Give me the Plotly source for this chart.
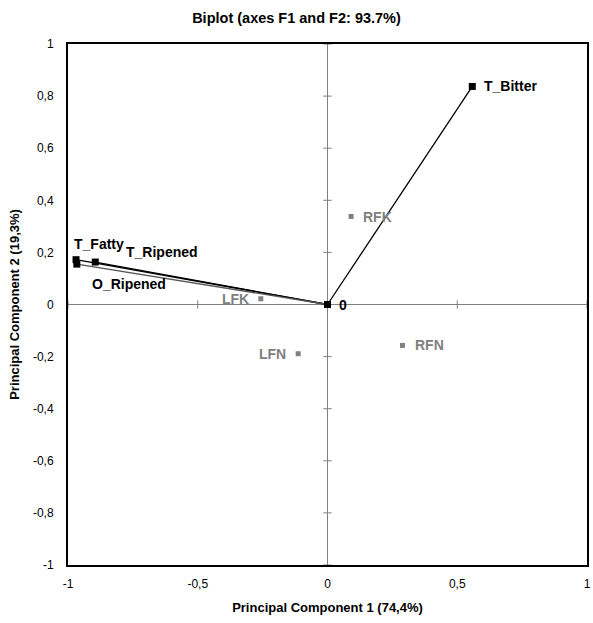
import plotly.graph_objects as go

# Variables (loadings)
var_names = ["T_Bitter", "T_Fatty", "T_Ripened", "O_Ripened"]
var_x = [0.558, -0.969, -0.895, -0.966]
var_y = [0.837, 0.172, 0.163, 0.155]
var_colors = ["#000000", "#000000", "#000000", "#555555"]

# Observations
obs_names = ["RFK", "RFN", "LFK", "LFN"]
obs_x = [0.091, 0.289, -0.257, -0.113]
obs_y = [0.338, -0.157, 0.022, -0.189]

origin_name = ["0"]
origin_x = [0.0]
origin_y = [0.0]

tick_vals_x = [-1, -0.5, 0, 0.5, 1]
tick_text_x = ["-1", "-0,5", "0", "0,5", "1"]
tick_vals_y = [-1, -0.8, -0.6, -0.4, -0.2, 0, 0.2, 0.4, 0.6, 0.8, 1]
tick_text_y = ["-1", "-0,8", "-0,6", "-0,4", "-0,2", "0", "0,2", "0,4", "0,6", "0,8", "1"]

# label placement (anchor, x offset px, y offset px)
var_label_style = [("left", 10, 0), ("left", -4, 16), ("left", 29, 10), ("left", 13, -20)]
obs_label_style = [("left", 10, -1), ("left", 10, 0), ("right", -10, 0), ("right", -10, 0)]
origin_label_style = [("left", 9, 0)]

FONT = "Liberation Sans, Arial, sans-serif"

fig = go.Figure()

# small ticks on the crossing axes
fig.add_trace(go.Scatter(
    x=[0] * len(tick_vals_y), y=tick_vals_y, mode="markers",
    marker=dict(symbol="line-ew", size=6, line=dict(color="#808080", width=1)),
    hoverinfo="skip", showlegend=False))
fig.add_trace(go.Scatter(
    x=tick_vals_x, y=[0] * len(tick_vals_x), mode="markers",
    marker=dict(symbol="line-ns", size=6, line=dict(color="#808080", width=1)),
    hoverinfo="skip", showlegend=False))

# variable vectors
for nx, ny, c in zip(var_x, var_y, var_colors):
    fig.add_trace(go.Scatter(
        x=[0, nx], y=[0, ny], mode="lines",
        line=dict(color=c, width=1.3), hoverinfo="skip", showlegend=False))

# observations
fig.add_trace(go.Scatter(
    x=obs_x, y=obs_y, mode="markers",
    marker=dict(symbol="square", size=5, color="#808080"),
    showlegend=False))

# variable points
fig.add_trace(go.Scatter(
    x=var_x, y=var_y, mode="markers",
    marker=dict(symbol="square", size=7, color="#000000"),
    showlegend=False))

# origin
fig.add_trace(go.Scatter(
    x=origin_x, y=origin_y, mode="markers",
    marker=dict(symbol="square", size=7, color="#000000"),
    showlegend=False))


def add_labels(names, xs, ys, styles, color):
    for n, x, y, (anc, dx, dy) in zip(names, xs, ys, styles):
        fig.add_annotation(
            x=x, y=y, text="<b>%s</b>" % n, showarrow=False,
            xanchor=anc, yanchor="middle", xshift=dx, yshift=dy,
            font=dict(family=FONT, size=14, color=color))


add_labels(var_names, var_x, var_y, var_label_style, "#000000")
add_labels(obs_names, obs_x, obs_y, obs_label_style, "#808080")
add_labels(origin_name, origin_x, origin_y, origin_label_style, "#000000")

axis_common = dict(
    showgrid=False, zeroline=True, zerolinecolor="#808080", zerolinewidth=1,
    showline=True, linecolor="#000000", linewidth=2, mirror=True,
    ticks="", tickfont=dict(family=FONT, size=12, color="#000000"),
)

fig.update_layout(
    width=593, height=623,
    margin=dict(l=68, r=2, t=44, b=58),
    paper_bgcolor="white", plot_bgcolor="white",
    font=dict(family=FONT, color="#000000"),
    title=dict(text="<b>Biplot (axes F1 and F2: 93.7%)</b>", x=0.5, xanchor="center",
               y=0.972, yanchor="middle", font=dict(family=FONT, size=14.5, color="#000000")),
    xaxis=dict(range=[-1, 1], tickvals=tick_vals_x, ticktext=tick_text_x,
               ticklabelstandoff=7,
               title=dict(text="<b>Principal Component 1 (74,4%)</b>",
                          font=dict(family=FONT, size=13), standoff=12),
               **axis_common),
    yaxis=dict(range=[-1, 1], tickvals=tick_vals_y, ticktext=tick_text_y,
               ticklabelstandoff=10,
               title=dict(text="<b>Principal Component 2 (19,3%)</b>",
                          font=dict(family=FONT, size=13), standoff=10),
               **axis_common),
)

fig.write_html("out.html")
